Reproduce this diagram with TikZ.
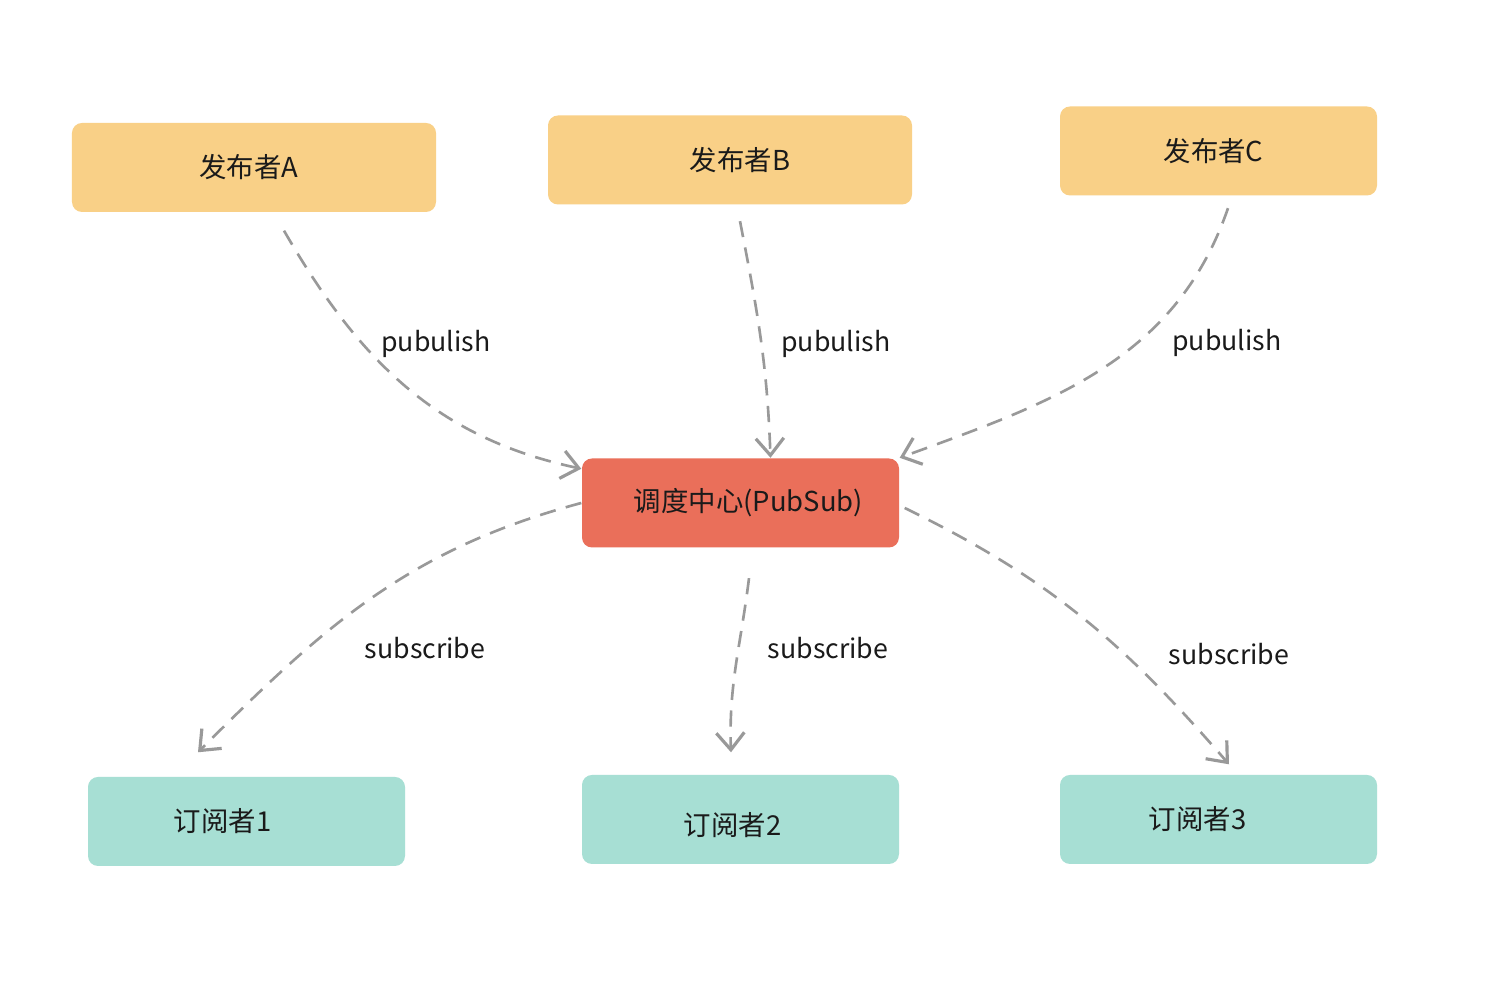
\documentclass[tikz,border=0pt]{standalone}
\usepackage{fontspec}
\setmainfont{Noto Sans CJK SC}
\usetikzlibrary{arrows.meta, positioning, calc}
\definecolor{pubcolor}{HTML}{F9D087}
\definecolor{hubcolor}{HTML}{EA6F5A}
\definecolor{subcolor}{HTML}{A7DFD4}
\definecolor{linkcolor}{HTML}{999999}
\definecolor{textcolor}{HTML}{1A1A1A}

\begin{document}
\begin{tikzpicture}[
    every node/.style={font=\fontsize{7.8pt}{9.5pt}\selectfont, text=textcolor},
    box/.style={rounded corners=1mm, inner sep=0pt, minimum height=0.89cm, minimum width=3.17cm},
    pubbox/.style={box, fill=pubcolor},
    hubbox/.style={box, fill=hubcolor},
    subbox/.style={box, fill=subcolor},
    link/.style={linkcolor, line width=0.75pt, dash pattern=on 4.6pt off 3pt,
        -{Straight Barb[length=1.7mm, width=2.8mm, line width=0.9pt]}},
    lbl/.style={inner sep=0pt, font=\fontsize{7.6pt}{9pt}\selectfont},
]
\fill[white] (0,0) rectangle (15,10.03);

% ---------------- publishers on top
\node[pubbox, minimum width=3.64cm, label={[xshift=-0.05cm]center:发布者A}] (pa) at (2.54, 8.355) {};
\node[pubbox, minimum width=3.64cm, label={[xshift=0.10cm]center:发布者B}] (pb) at (7.30, 8.43) {};
\node[pubbox, label={[xshift=-0.05cm]center:发布者C}] (pc) at (12.185, 8.52) {};

% ---------------- dispatch centre
\node[hubbox, label={[xshift=0.08cm]center:调度中心(PubSub)}] (hub) at (7.405, 5.00) {};

% ---------------- subscribers below
\node[subbox, label={[xshift=-0.24cm]center:订阅者1}] (sa) at (2.465, 1.815) {};
\node[subbox, label={[xshift=-0.08cm, yshift=-0.06cm]center:订阅者2}] (sb) at (7.405, 1.835) {};
\node[subbox, label={[xshift=-0.21cm]center:订阅者3}] (sc) at (12.185, 1.835) {};

% publish links
\draw[link] ([shift={(0.30,-0.18)}]pa.south) to[out=-60, in=168] ([yshift=-0.11cm]hub.north west);
\draw[link] ([shift={(0.10,-0.16)}]pb.south) to[out=-79, in=92] ([xshift=0.30cm]hub.north);
\draw[link] ([shift={(0.095,-0.12)}]pc.south) to[out=-109, in=20] (hub.north east);
\node[lbl] (la) at (4.36, 6.59) {pubulish};
\node[lbl] (lb) at (8.36, 6.59) {pubulish};
\node[lbl] (lc) at (12.27, 6.60) {pubulish};

% subscribe links
\draw[link] (hub.west) to[out=195, in=45] ([shift={(-0.485,0.24)}]sa.north);
\draw[link] ([shift={(0.085,-0.30)}]hub.south) to[out=-97, in=92] ([shift={(-0.095,0.22)}]sb.north);
\draw[link] ([shift={(0.05,-0.05)}]hub.east) to[out=-26, in=131] ([shift={(0.105,0.10)}]sc.north);
\node[lbl] (ma) at (4.25, 3.55) {subscribe};
\node[lbl] (mb) at (8.28, 3.55) {subscribe};
\node[lbl] (mc) at (12.29, 3.49) {subscribe};
\end{tikzpicture}
\end{document}
